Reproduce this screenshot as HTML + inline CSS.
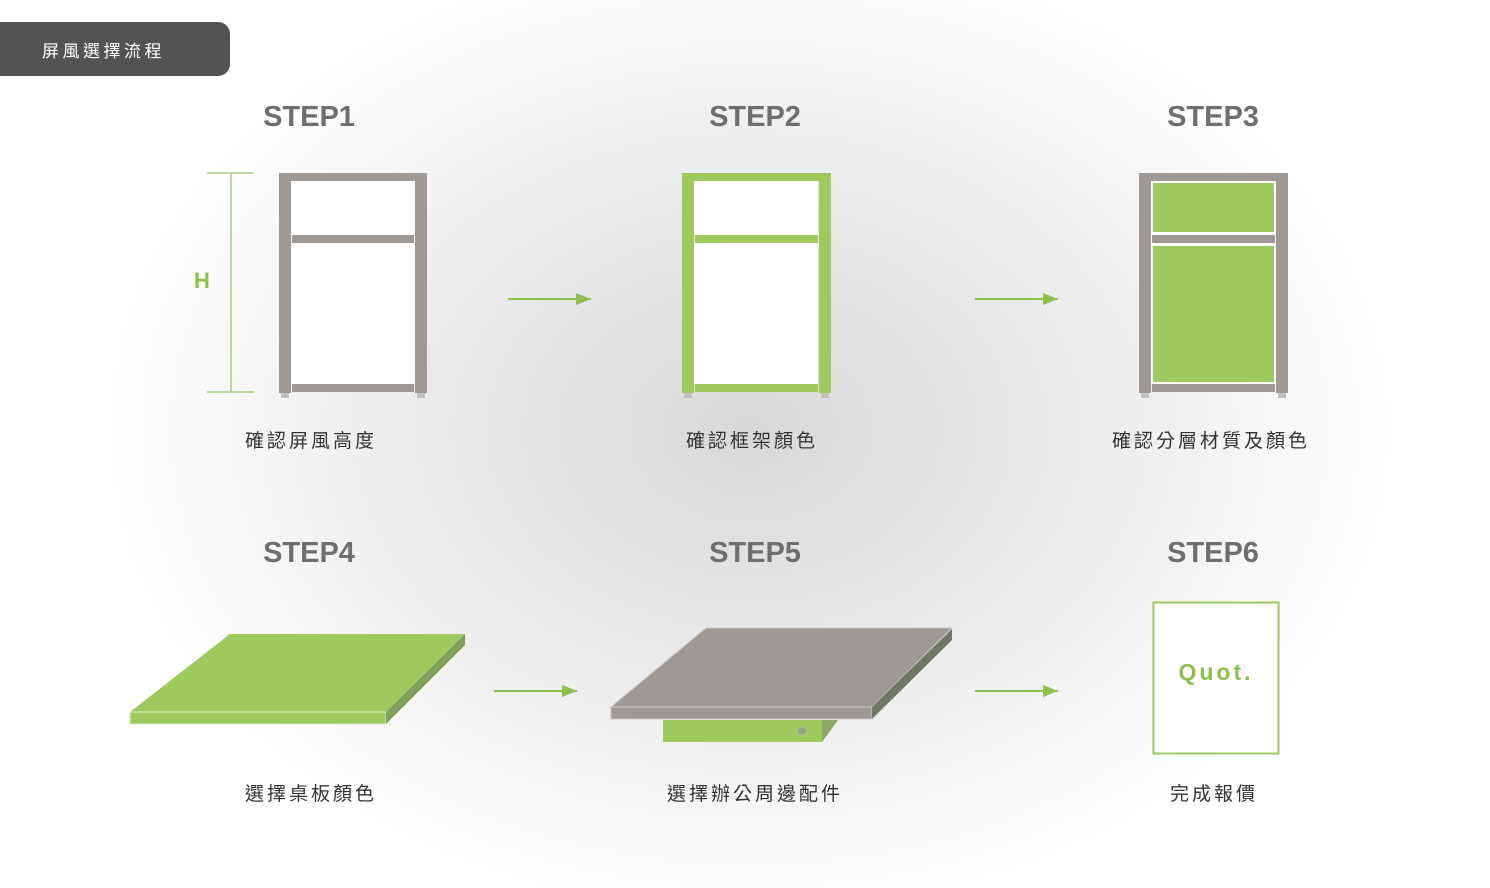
<!DOCTYPE html>
<html><head><meta charset="utf-8"><style>
body{margin:0;width:1490px;height:888px;overflow:hidden;background:#fff;font-family:"Liberation Sans","Noto Sans CJK TC",sans-serif}
svg{position:absolute;left:0;top:0}
</style></head><body>
<svg width="1490" height="888" viewBox="0 0 1490 888">
<defs>
<radialGradient id="bg" cx="750" cy="430" r="640" gradientUnits="userSpaceOnUse" gradientTransform="translate(750 430) scale(1 0.75) translate(-750 -430)">
<stop offset="0" stop-color="#d8d8d8"/><stop offset="0.55" stop-color="#ececec"/><stop offset="1" stop-color="#fff"/></radialGradient>
<marker id="ar" markerWidth="16" markerHeight="14" refX="15" refY="7" orient="auto" markerUnits="userSpaceOnUse"><path d="M0,1L15,7L0,13z" fill="#8fbf4f"/></marker>
</defs>
<rect width="1490" height="888" fill="url(#bg)"/>
<path d="M0,22H218a12,12 0 0 1 12,12V64a12,12 0 0 1 -12,12H0z" fill="#535353"/>
<text x="42" y="57" fill="#fff" font-size="17" letter-spacing="3.5">屏風選擇流程</text>
<g font-size="29" font-weight="bold" fill="#6e6e6e" text-anchor="middle">
<text x="309" y="126">STEP1</text><text x="755" y="126">STEP2</text><text x="1213" y="126">STEP3</text>
<text x="309" y="562">STEP4</text><text x="755" y="562">STEP5</text><text x="1213" y="562">STEP6</text>
</g>
<g font-size="19" fill="#333" text-anchor="middle" letter-spacing="3">
<text x="311" y="447">確認屏風高度</text><text x="752" y="447">確認框架顏色</text><text x="1211" y="447">確認分層材質及顏色</text>
<text x="311" y="800">選擇桌板顏色</text><text x="755" y="800">選擇辦公周邊配件</text><text x="1214" y="800">完成報價</text>
</g>
<g stroke="#a8cf7a" stroke-width="1.5"><line x1="207" y1="173" x2="254" y2="173"/><line x1="207" y1="392" x2="254" y2="392"/><line x1="231" y1="173" x2="231" y2="392"/></g>
<text x="202" y="288" font-size="22" font-weight="bold" fill="#8cc04a" text-anchor="middle">H</text>
<g>
<rect x="291" y="181" width="124" height="203" fill="#fff"/>
<rect x="279" y="173" width="148" height="8" rx="3" fill="#9f9995"/>
<rect x="279" y="173" width="12" height="220" fill="#9f9995"/>
<rect x="415" y="173" width="12" height="220" fill="#9f9995"/>
<rect x="292" y="235" width="122" height="8" fill="#9f9995"/>
<rect x="292" y="384" width="122" height="8" fill="#9f9995"/>
<rect x="281" y="393" width="8" height="5" fill="#c4c0bd"/><rect x="417" y="393" width="8" height="5" fill="#c4c0bd"/>
</g>
<g>
<rect x="694" y="181" width="124" height="203" fill="#fff"/>
<rect x="682" y="173" width="149" height="8" rx="3" fill="#9dc95f"/>
<rect x="682" y="173" width="12" height="220" fill="#9dc95f"/>
<rect x="819" y="173" width="12" height="220" fill="#9dc95f"/>
<rect x="695" y="235" width="123" height="8" fill="#9dc95f"/>
<rect x="695" y="384" width="123" height="8" fill="#9dc95f"/>
<rect x="684" y="393" width="8" height="5" fill="#c4c0bd"/><rect x="821" y="393" width="8" height="5" fill="#c4c0bd"/>
</g>
<g>
<rect x="1151" y="181" width="124" height="203" fill="#fff"/>
<rect x="1153" y="183" width="121" height="49" fill="#9dc95f"/>
<rect x="1153" y="246" width="121" height="136" fill="#9dc95f"/>
<rect x="1139" y="173" width="149" height="8" rx="3" fill="#9f9995"/>
<rect x="1139" y="173" width="12" height="220" fill="#9f9995"/>
<rect x="1276" y="173" width="12" height="220" fill="#9f9995"/>
<rect x="1152" y="235" width="123" height="8" fill="#9f9995"/>
<rect x="1152" y="384" width="123" height="8" fill="#9f9995"/>
<rect x="1141" y="393" width="8" height="5" fill="#c4c0bd"/><rect x="1278" y="393" width="8" height="5" fill="#c4c0bd"/>
</g>
<g stroke="#8fbf4f" stroke-width="2" marker-end="url(#ar)">
<line x1="508" y1="299" x2="591" y2="299"/><line x1="975" y1="299" x2="1058" y2="299"/>
<line x1="494" y1="691" x2="577" y2="691"/><line x1="975" y1="691" x2="1058" y2="691"/>
</g>
<polygon points="130,712 230,634 465,634 386,712" fill="#9dc95f"/>
<rect x="130" y="712" width="256" height="12" fill="#9dc95f" stroke="#dde9cf" stroke-width="1"/>
<polygon points="386,712 465,634 465,645 386,724" fill="#7f9f5a"/>
<polygon points="663,720 822,720 838,720 822,742 663,742" fill="#9dc95f"/>
<polygon points="822,720 838,720 822,742" fill="#8aa865"/>
<circle cx="802" cy="731" r="4" fill="#8fa878" stroke="#a8b79a"/>
<polygon points="611,707 706,628 952,628 872,707" fill="#9e9995" stroke="#c9c6c3"/>
<rect x="611" y="707" width="261" height="12" fill="#9e9995" stroke="#c9c6c3"/>
<polygon points="872,707 952,629 952,640 872,719" fill="#6f7766"/>
<rect x="1153.5" y="602.5" width="125" height="151" fill="#fff" stroke="#9dc95f" stroke-width="2"/>
<text x="1216" y="680" font-size="23" font-weight="bold" fill="#8cc04a" text-anchor="middle" letter-spacing="3">Quot.</text>
</svg>
</body></html>
